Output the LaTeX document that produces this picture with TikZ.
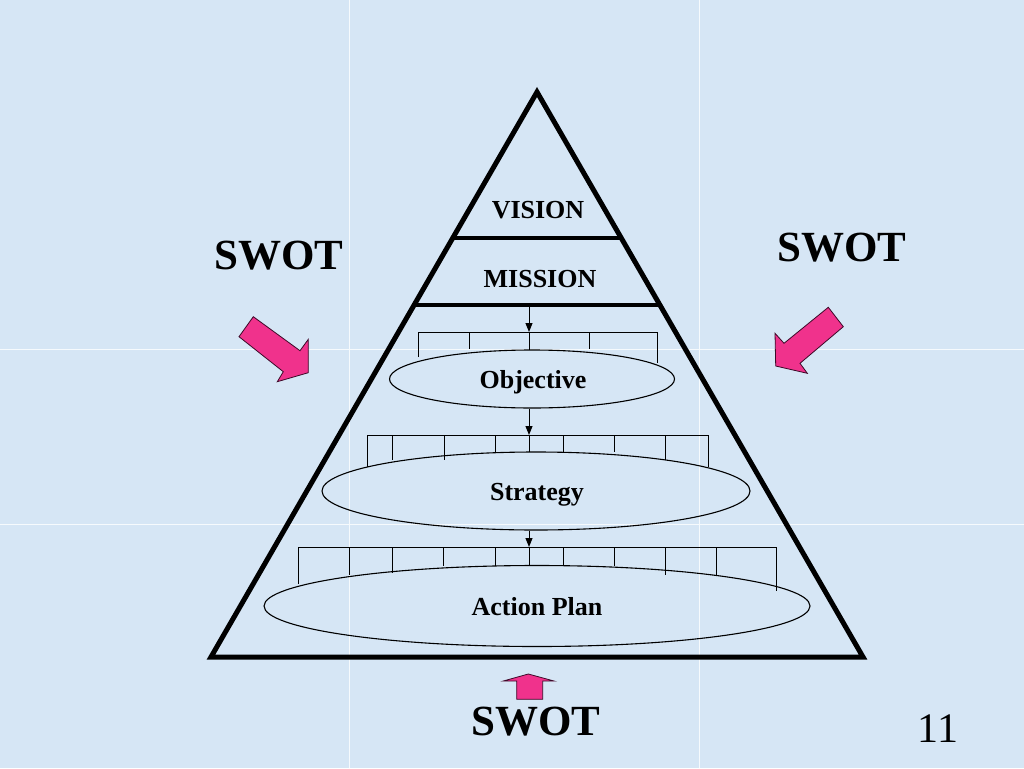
\documentclass[tikz,border=0pt]{standalone}
\usepackage{fontspec}
\setmainfont{Liberation Serif}
\usetikzlibrary{shapes.geometric,arrows.meta,calc}
\definecolor{bgblue}{RGB}{214,230,245}
\definecolor{swotpink}{RGB}{240,50,140}
\definecolor{pinkedge}{RGB}{60,10,40}
\begin{document}
\begin{tikzpicture}[x=1pt,y=-1pt,
  tri/.style={line width=5pt,line join=miter},
  tier/.style={line width=4pt},
  oval/.style={draw,ellipse,line width=1.1pt,inner sep=0pt},
  bar/.style={line width=1pt},
  flow/.style={line width=1pt,-{Triangle[length=9pt,width=7pt]}},
  lbl/.style={font=\bfseries\fontsize{26}{26}\selectfont,anchor=base,inner sep=0pt},
  swot/.style={font=\bfseries\fontsize{43}{43}\selectfont,anchor=base,inner sep=0pt},
  pink/.style={fill=swotpink,draw=pinkedge,line width=0.8pt,line join=miter}]
% background
\fill[bgblue] (0,0) rectangle (1024,768);
\useasboundingbox (0,0) rectangle (1024,768);
\draw[white,opacity=0.8,line width=1pt] (349,0) -- (349,768) (699,0) -- (699,768)
  (0,349) -- (1024,349) (0,524) -- (1024,524);
% pyramid
\coordinate (apex) at (537,92);
\coordinate (bl) at (211,657);
\coordinate (br) at (863,657);
\draw[tri] (apex) -- (bl) -- (br) -- cycle;
\draw[tier] ($(apex)!0.2584!(bl)$) -- ($(apex)!0.2584!(br)$);
\coordinate (ml) at ($(apex)!0.377!(bl)$);
\coordinate (mr) at ($(apex)!0.377!(br)$);
\draw[tier] (ml) -- (mr);
% ellipses
\node[oval,minimum width=285pt,minimum height=58pt] (obj) at (532,379) {};
\node[oval,minimum width=428pt,minimum height=78pt] (strat) at (536,491) {};
\node[oval,minimum width=546pt,minimum height=81pt] (act) at (537,606) {};
% bracket tops
\coordinate (m) at (529,305);
\coordinate (objbar) at (529,332);
\coordinate (stratbar) at (529,435);
\coordinate (actbar) at (529,547);
% objective bracket
\draw[bar] (418,357) -- (418,332) -- (657,332) -- (657,363);
\foreach \x/\y in {469/349,589/349} \draw[bar] (\x,332) -- (\x,\y);
\draw[bar] (objbar) -- (529,350);
% strategy bracket
\draw[bar] (367,467) -- (367,435) -- (708,435) -- (708,467);
\foreach \x/\y in {392/460,444/460,495/453,529/452,563/452,614/452,665/460} \draw[bar] (\x,435) -- (\x,\y);
% action bracket
\draw[bar] (298,584) -- (298,547) -- (776,547) -- (776,591);
\foreach \x/\y in {349/575,392/573,443/566,495/566,529/566,563/566,614/566,665/575,716/575} \draw[bar] (\x,547) -- (\x,\y);
% connectors
\draw[flow] (m) -- (objbar);
\draw[flow] (obj.south -| objbar) -- (stratbar);
\draw[flow] (strat.south -| objbar) -- (actbar);
% labels
\node[lbl] (vision) at (538,218) {VISION};
\node[lbl] (mission) at (540,287) {MISSION};
\node[lbl] (objtext) at (533,388) {Objective};
\node[lbl] (strattext) at (537,500) {Strategy};
\node[lbl] (acttext) at (537,615) {Action Plan};
\node[swot] (swotL) at (279,269) {SWOT};
\node[swot] (swotR) at (842,261) {SWOT};
\node[swot] (swotB) at (536,735) {SWOT};
\node[font=\fontsize{42}{42}\selectfont,anchor=base,inner sep=0pt] (page) at (938,742) {11};
% pink arrows
\draw[pink] (253.3,316.7) -- (300,350.7) -- (308.3,339.3) -- (308.3,372.7) -- (277.3,381.7) -- (283.3,371.7) -- (239,336.7) -- cycle;
\draw[pink] (828.3,307.3) -- (843.3,326.7) -- (800,363.3) -- (807.3,373.3) -- (775.7,366) -- (775,333.3) -- (784,343.3) -- cycle;
\draw[pink] (516.7,699.3) -- (516.7,681) -- (503.3,681) -- (528.3,674) -- (554,681) -- (542.7,681) -- (542.7,699.3) -- cycle;
\end{tikzpicture}
\end{document}
